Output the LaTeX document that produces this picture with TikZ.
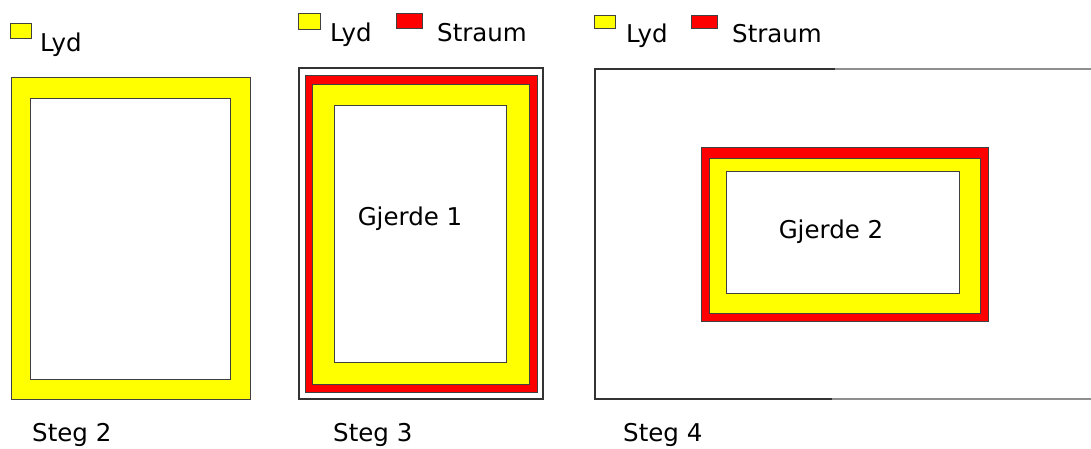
\documentclass[tikz,border=0pt]{standalone}
\usepackage{fontspec}
\setmainfont{DejaVu Sans}
\usepackage{tikz}
\definecolor{lydyellow}{rgb}{1.000,1.000,0.000}
\definecolor{straumred}{rgb}{1.000,0.000,0.000}
\definecolor{edgegrey}{rgb}{0.250,0.250,0.250}
\definecolor{fadegrey}{rgb}{0.560,0.560,0.560}
\tikzstyle{lyd}=[fill=lydyellow,draw=edgegrey,line width=1pt]
\tikzstyle{straum}=[fill=straumred,draw=edgegrey,line width=1pt]
\tikzstyle{field}=[fill=white,draw=edgegrey,line width=1pt]
\tikzstyle{frame}=[draw=black!80,line width=1.2pt]
\tikzstyle{label}=[inner sep=0pt,anchor=base west,font=\fontsize{24.5}{28}\selectfont]
\tikzstyle{fence}=[inner sep=0pt,anchor=base,font=\fontsize{24.5}{28}\selectfont]

\begin{document}
\begin{tikzpicture}[x=1pt,y=-1pt]
	\useasboundingbox (0,0) rectangle (1091,448);
	% steg 2
		\draw [style=lyd] (10,23) rectangle (31,38);
		\node [style=label] (lyd2) at (40,51) {Lyd};
		\draw [style=lyd] (11,77) rectangle (250,399);
		\draw [style=field] (30,98) rectangle (230,379);
		\node [style=label] (steg2) at (32,441) {Steg 2};
	% steg 3
		\draw [style=lyd] (298,13) rectangle (320,29);
		\node [style=label] (lyd3) at (330,41) {Lyd};
		\draw [style=straum] (396,13) rectangle (422,28);
		\node [style=label] (straum3) at (437,41) {Straum};
		\draw [style=frame] (299,68) rectangle (543,399);
		\draw [style=straum] (305,75) rectangle (537,392);
		\draw [style=lyd] (312,84) rectangle (529,384);
		\draw [style=field] (334,105) rectangle (506,362);
		\node [style=fence] (gjerde1) at (410,225) {Gjerde 1};
		\node [style=label] (steg3) at (333,441) {Steg 3};
	% steg 4
		\draw [style=lyd] (594,15) rectangle (615,28);
		\node [style=label] (lyd4) at (626,42) {Lyd};
		\draw [style=straum] (691,15) rectangle (717,28);
		\node [style=label] (straum4) at (732,42) {Straum};
		\draw [style=frame] (835,69) -- (595,69) -- (595,399) -- (832,399);
		\draw [draw=fadegrey,line width=1.2pt] (835,69) -- (1091,69);
		\draw [draw=fadegrey,line width=1.2pt] (832,399) -- (1091,399);
		\draw [style=straum] (701,147) rectangle (988,321);
		\draw [style=lyd] (709,158) rectangle (980,313);
		\draw [style=field] (726,171) rectangle (959,293);
		\node [style=fence] (gjerde2) at (831,238) {Gjerde 2};
		\node [style=label] (steg4) at (623,441) {Steg 4};
\end{tikzpicture}
\end{document}
